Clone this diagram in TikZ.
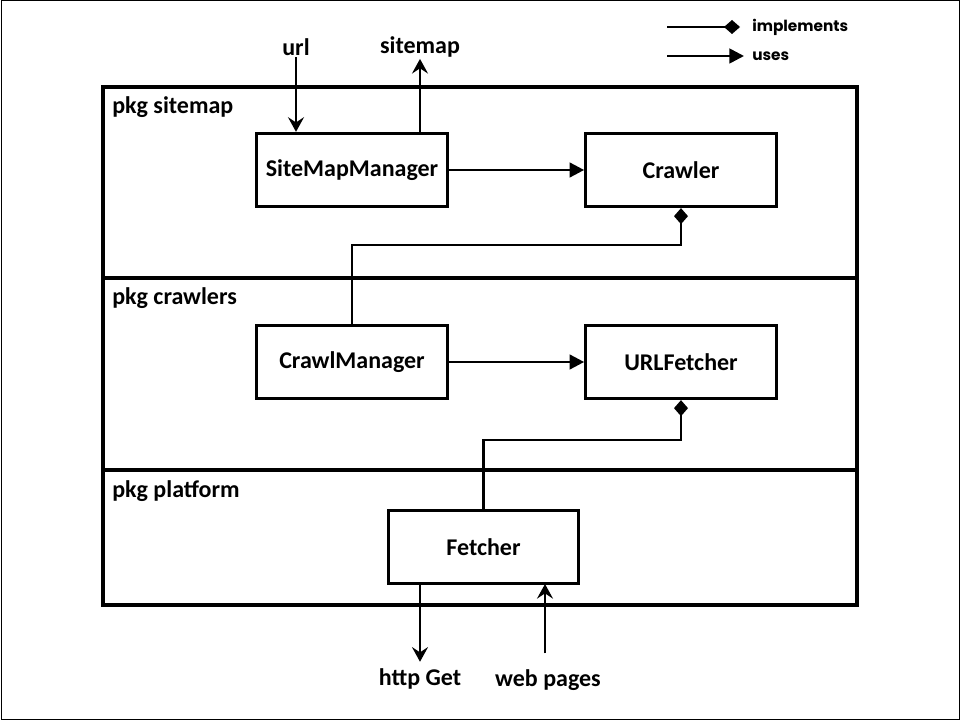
\documentclass[tikz,border=0pt]{standalone}
\usepackage{fontspec}
\setmainfont{Carlito}
\newfontfamily\legendfont{Poppins}
\usetikzlibrary{arrows.meta,positioning}

\begin{document}
\begin{tikzpicture}[x=0.75pt, y=-0.75pt,
  comp/.style={draw, line width=2.25pt, minimum width=143pt, minimum height=55pt, font=\bfseries\fontsize{18}{21}\selectfont},
  lbl/.style={font=\bfseries\fontsize{18}{21}\selectfont, inner sep=1pt},
  pkg/.style={font=\bfseries\fontsize{18}{21}\selectfont, anchor=west, inner sep=0pt},
  legend/.style={font=\legendfont\bfseries\fontsize{11.5}{13}\selectfont, anchor=west, inner sep=0pt},
  uses/.style={line width=2pt, -{Triangle[length=11pt, width=11pt]}},
  flow/.style={line width=2pt, -{Stealth[length=11pt, width=12pt, inset=4pt]}},
  impl/.style={line width=2pt, {Diamond[length=12pt, width=10.5pt]}-}]
\useasboundingbox (0,0) rectangle (960,720);
\draw[line width=0.75pt] (1,1) rectangle (959,719);

% packages
\draw[line width=2.6pt] (103,87) rectangle (857,605);
\draw[line width=2.6pt] (103,278) -- (857,278);
\draw[line width=2.6pt] (103,470) -- (857,470);
\node[pkg] (pkgsitemap) at (112,107) {pkg sitemap};
\node[pkg] (pkgcrawlers) at (112,298) {pkg crawlers};
\node[pkg] (pkgplatform) at (112,491) {pkg platform};

% components
\node[comp] (smm) at (352,170) {SiteMapManager};
\node[comp] (crawler) at (681,170) {Crawler};
\node[comp] (cm) at (352,362) {CrawlManager};
\node[comp] (urlf) at (681,362) {URLFetcher};
\node[comp] (fetcher) at (483.5,547) {Fetcher};

% inputs and outputs
\node[lbl] (url) at (296,47) {url};
\node[lbl] (sitemap) at (420,47) {sitemap};
\node[lbl] (http) at (420,679) {http Get};
\node[lbl] (web) at (548,680) {web pages};
\draw[flow] (url) -- (url |- smm.north);
\draw[flow] (sitemap |- smm.north) -- (sitemap);
\draw[flow, shorten >=4pt] (http |- fetcher.south) -- (http);
\draw[flow, shorten <=5pt] (545,660) -- (545,584);

\draw[uses] (smm) -- (crawler);
\draw[uses] (cm) -- (urlf);
\draw[impl] (crawler.south) |- (352,245) -- (cm.north);
\draw[impl] (urlf.south) |- (483.5,440) -- (fetcher.north);

% legend
\coordinate (implstart) at (667,27);
\coordinate (usesstart) at (667,56);
\node[legend] (impltxt) at (752,27) {implements};
\node[legend] (usestxt) at (752,56) {uses};
\draw[impl, shorten <=9pt] (impltxt.west) -- (implstart);
\draw[uses, shorten >=6pt] (usesstart) -- (usestxt.west);
\end{tikzpicture}
\end{document}
